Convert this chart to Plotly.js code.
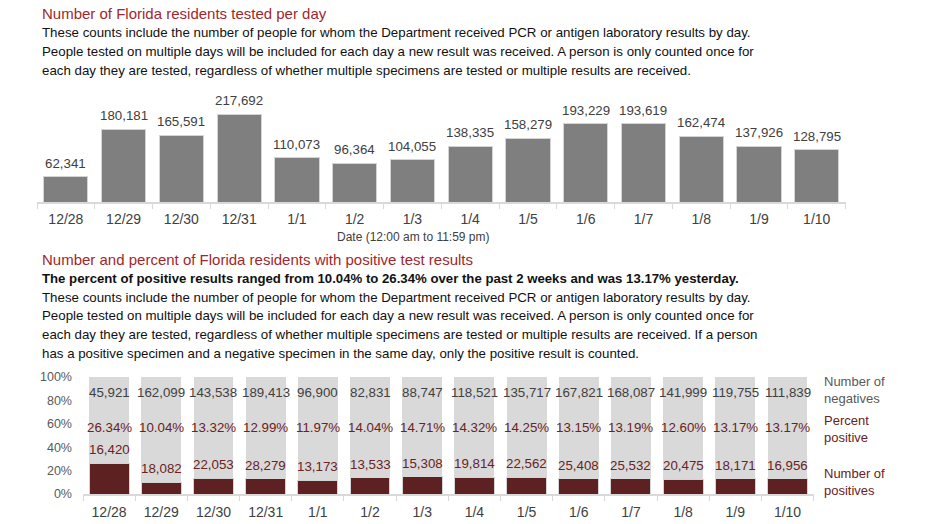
<!DOCTYPE html>
<html>
<head>
<meta charset="utf-8">
<script src="https://cdn.plot.ly/plotly-3.0.1.min.js"></script>
<style>html,body{margin:0;padding:0;background:#fff;}#chart{width:932px;height:524px;}</style>
</head>
<body>
<div id="chart"></div>
<script>
// ---- data ----
var dates = ["12/28","12/29","12/30","12/31","1/1","1/2","1/3","1/4","1/5","1/6","1/7","1/8","1/9","1/10"];
var testedPerDay = [62341,180181,165591,217692,110073,96364,104055,138335,158279,193229,193619,162474,137926,128795];
var negatives = [45921,162099,143538,189413,96900,82831,88747,118521,135717,167821,168087,141999,119755,111839];
var positives = [16420,18082,22053,28279,13173,13533,15308,19814,22562,25408,25532,20475,18171,16956];
var percentPositive = [26.34,10.04,13.32,12.99,11.97,14.04,14.71,14.32,14.25,13.15,13.19,12.60,13.17,13.17];
var pctTickVals = [0,20,40,60,80,100];
var pctTickText = ["0%","20%","40%","60%","80%","100%"];

var title1 = "Number of Florida residents tested per day";
var para1 = [
  "These counts include the number of people for whom the Department received PCR or antigen laboratory results by day.",
  "People tested on multiple days will be included for each day a new result was received. A person is only counted once for",
  "each day they are tested, regardless of whether multiple specimens are tested or multiple results are received."
];
var xTitle1 = "Date (12:00 am to 11:59 pm)";
var title2 = "Number and percent of Florida residents with positive test results";
var bold2 = "The percent of positive results ranged from 10.04% to 26.34% over the past 2 weeks and was 13.17% yesterday.";
var para2 = [
  "These counts include the number of people for whom the Department received PCR or antigen laboratory results by day.",
  "People tested on multiple days will be included for each day a new result was received. A person is only counted once for",
  "each day they are tested, regardless of whether multiple specimens are tested or multiple results are received. If a person",
  "has a positive specimen and a negative specimen in the same day, only the positive result is counted."
];
var legendNeg = "Number of<br>negatives";
var legendPct = "Percent<br>positive";
var legendPos = "Number of<br>positives";

// ---- style ----
var W = 932, H = 524;
var FONT = "Liberation Sans, Arial, sans-serif";
var RED_TITLE = "#a0282c";
var DARK_RED = "#5e2121";
var PCT_RED = "#6a2222";
var TXT = "#404040";
function fmt(n){ return n.toLocaleString("en-US"); }
function px(x){ return x / W; }
function py(y){ return 1 - y / H; }

var negPct = percentPositive.map(function(p){ return 100 - p; });

var traces = [
  {type:"bar", x:dates, y:testedPerDay, xaxis:"x", yaxis:"y",
   marker:{color:"#7f7f7f", line:{color:"#d4d4d4", width:1}}, hoverinfo:"skip"},
  {type:"bar", x:dates, y:percentPositive, xaxis:"x2", yaxis:"y2",
   marker:{color:DARK_RED, line:{color:"#d4d4d4", width:1}}, hoverinfo:"skip"},
  {type:"bar", x:dates, y:negPct, xaxis:"x2", yaxis:"y2",
   marker:{color:"#d9d9d9", line:{width:0}}, hoverinfo:"skip"}
];

var annotations = [];
function addText(txt, x, y, opts){
  opts = opts || {};
  annotations.push({xref:"paper", yref:"paper", x:px(x), y:py(y), text:txt, showarrow:false,
    xanchor:opts.xanchor||"left", yanchor:"middle", align:"left",
    font:{family:FONT, size:opts.size||13.3, color:opts.color||"#111"}});
}
addText(title1, 40, 13, {size:15, color:RED_TITLE});
para1.forEach(function(t,i){ addText(t, 40, 33 + i*18.5); });
addText(xTitle1, 413, 237, {xanchor:"center", size:12, color:TXT});
addText(title2, 40, 259, {size:15, color:RED_TITLE});
addText("<b>"+bold2+"</b>", 40, 278, {size:13.2});
para2.forEach(function(t,i){ addText(t, 40, 297 + i*18.7); });
addText(legendNeg, 822, 390, {size:13, color:"#595959"});
addText(legendPct, 822, 429, {size:13, color:PCT_RED});
addText(legendPos, 822, 482, {size:13, color:PCT_RED});

// value labels
dates.forEach(function(d,i){
  annotations.push({xref:"x", yref:"y", x:d, y:testedPerDay[i], yanchor:"bottom", yshift:4,
    text:fmt(testedPerDay[i]), showarrow:false, font:{family:FONT, size:13.3, color:TXT}});
  annotations.push({xref:"x2", yref:"y2", x:d, y:percentPositive[i], yanchor:"bottom", yshift:4,
    text:fmt(positives[i]), showarrow:false, font:{family:FONT, size:13.3, color:PCT_RED}});
  annotations.push({xref:"x2", yref:"y2", x:d, y:87, text:fmt(negatives[i]), showarrow:false,
    font:{family:FONT, size:13.3, color:TXT}});
  annotations.push({xref:"x2", yref:"y2", x:d, y:57, text:percentPositive[i].toFixed(2)+"%", showarrow:false,
    font:{family:FONT, size:13.3, color:PCT_RED}});
});

var layout = {
  width:W, height:H, margin:{l:0,r:0,t:0,b:0},
  paper_bgcolor:"#fff", plot_bgcolor:"#fff",
  showlegend:false, barmode:"stack", bargap:0.235,
  font:{family:FONT, size:13, color:TXT},
  xaxis:{domain:[px(37), px(845.6)], anchor:"y", type:"category",
    showline:true, linecolor:"#d9d9d9", linewidth:1.5, ticks:"outside", tickson:"boundaries",
    ticklen:5, tickcolor:"#d9d9d9", showgrid:false, zeroline:false, ticklabelstandoff:4,
    tickfont:{family:FONT, size:14, color:TXT}},
  yaxis:{domain:[py(202), py(101)], anchor:"x", range:[0,250000], visible:false, fixedrange:true},
  xaxis2:{domain:[px(83), px(813.6)], anchor:"y2", type:"category",
    showline:true, linecolor:"#d9d9d9", linewidth:1.5, ticks:"outside", tickson:"boundaries",
    ticklen:5, tickcolor:"#d9d9d9", showgrid:false, zeroline:false, ticklabelstandoff:5,
    tickfont:{family:FONT, size:14, color:TXT}},
  yaxis2:{domain:[py(494), py(377)], anchor:"x2", range:[0,100], showgrid:false, zeroline:false,
    showline:false, ticks:"", tickmode:"array", tickvals:pctTickVals, ticktext:pctTickText, ticklabelstandoff:10,
    tickfont:{family:FONT, size:12.5, color:"#595959"}},
  annotations:annotations
};

Plotly.newPlot("chart", traces, layout, {staticPlot:true, displayModeBar:false});
</script>
</body>
</html>
